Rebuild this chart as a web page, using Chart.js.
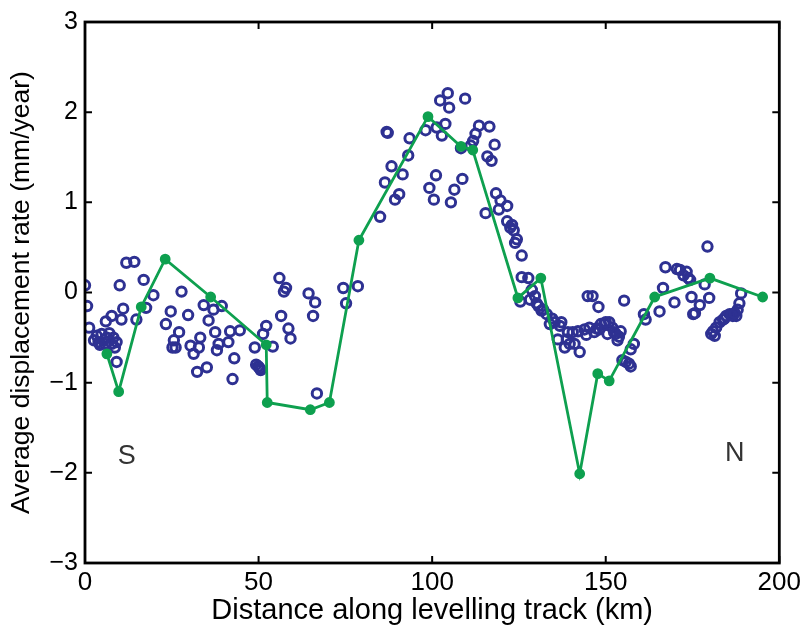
<!DOCTYPE html>
<html>
<head>
<meta charset="utf-8">
<script src="https://cdn.jsdelivr.net/npm/chart.js@4"></script>
<style>
  html, body { margin: 0; padding: 0; background: #fff; }
  #wrap { width: 805px; height: 630px; position: relative; }
</style>
</head>
<body>
<div id="wrap"><canvas id="chart"></canvas></div>
<script>
// observed levelling rates (km along track, mm/year)
var obsKm = [0.0, 0.6, 1.2, 3.4, 4.8, 6.3, 8.2, 3.9, 5.8, 7.7, 9.1, 8.6, 6.0, 7.7, 11.0, 10.5, 10.0, 11.9, 14.2, 9.1,
    14.8, 16.9, 19.7, 17.6, 24.7, 23.3, 27.8, 29.7, 27.1, 25.6, 26.1, 25.2, 30.4, 31.3, 32.8, 33.2, 32.3, 35.1, 34.2, 37.0,
    39.4, 35.6, 37.5, 38.5, 38.0, 41.3, 41.8, 44.6, 43.0, 42.5, 48.9, 51.3, 52.2, 49.9, 50.3, 49.3, 54.1, 56.0, 57.9, 57.3,
    64.4, 66.3, 65.7, 56.5, 58.6, 59.2, 66.8, 74.4, 78.6, 75.2,
    85.0, 86.4, 89.3, 90.5, 91.5, 88.3, 86.9, 87.2, 93.5, 93.1, 98.1, 101.3, 102.8, 103.8, 102.3, 104.5, 104.9, 109.5,
    101.1, 99.2, 100.5, 106.4, 108.7, 105.4, 108.3, 111.1, 111.8, 112.5, 113.5, 116.5, 118.0, 115.9, 117.1, 115.4, 118.4,
    119.7, 121.6, 119.2, 121.6, 123.0, 122.5, 123.5, 124.4, 123.9, 125.8, 125.8, 127.7, 125.4, 128.7, 129.6, 130.1, 130.6,
    132.0, 133.0, 133.9, 135.3, 136.8, 137.2, 136.2, 138.2, 139.6, 141.0, 142.5, 139.1, 140.5, 142.0, 143.9, 145.3, 146.7,
    148.1, 149.6, 151.0, 151.9, 152.9, 153.4, 154.3, 144.8, 146.2, 147.9, 155.3, 148.6, 150.0, 150.5, 152.4, 158.1, 157.2,
    154.8, 155.8, 156.7, 157.2, 161.0, 161.5, 165.5, 166.5, 167.2, 170.5, 171.4, 172.4, 173.3, 173.8, 174.3, 169.8, 174.7,
    177.1, 175.7, 175.2, 178.5, 179.8, 179.3, 189.0, 188.5, 188.0, 187.6, 186.6, 185.7, 184.7, 183.8, 182.8, 181.8, 180.9,
    180.4, 181.4,
    2.6, 4.3, 7.0, 50.6, 128.2, 131.5, 134.6, 138.8, 144.4, 147.4, 153.8, 184.2, 186.2, 187.1];
var obsRate = [0.08, -0.15, -0.39, -0.48, -0.46, -0.50, -0.50, -0.55, -0.57, -0.57, -0.55, -0.61, -0.32, -0.26, -0.18, -0.30, 0.08, 0.33, 0.34, -0.77,
    -0.30, 0.14, -0.03, -0.17, -0.21, -0.35, 0.01, -0.25, -0.44, -0.53, -0.61, -0.61, -0.59, -0.68, -0.61, -0.50, -0.88, -0.83, -0.14, -0.19,
    -0.15, -0.31, -0.44, -0.57, -0.64, -0.55, -0.43, -0.42, -0.73, -0.96, -0.61, -0.46, -0.37, -0.82, -0.84, -0.80, -0.60, 0.16, 0.05, 0.01,
    -0.01, -0.11, -0.26, -0.26, -0.40, -0.51, -1.12, 0.05, 0.07, -0.12,
    0.84, 1.22, 1.03, 1.09, 1.31, 1.40, 1.78, 1.77, 1.71, 1.52, 1.80, 1.83, 1.74, 1.87, 2.13, 2.21, 2.05, 2.15,
    1.30, 1.16, 1.03, 1.14, 1.26, 1.00, 1.60, 1.63, 1.68, 1.76, 1.85, 1.84, 1.64, 1.51, 1.46, 0.88, 1.10,
    1.02, 0.96, 0.92, 0.79, 0.75, 0.72, 0.69, 0.59, 0.55, 0.41, 0.17, 0.16, -0.10, 0.03, -0.04, -0.12, -0.15,
    -0.19, -0.24, -0.35, -0.33, -0.37, -0.33, -0.52, -0.61, -0.57, -0.57, -0.66, -0.44, -0.44, -0.43, -0.41, -0.39, -0.44,
    -0.41, -0.35, -0.33, -0.39, -0.46, -0.53, -0.43, -0.04, -0.04, -0.16, -0.09, -0.35, -0.33, -0.46, -0.44, -0.57, -0.63,
    -0.75, -0.77, -0.79, -0.82, -0.24, -0.30, -0.21, 0.05, 0.28, 0.26, 0.25, 0.19, 0.23, 0.16, 0.14, -0.11, -0.05,
    -0.14, -0.23, -0.24, 0.09, -0.06, 0.51, -0.01, -0.12, -0.19, -0.26, -0.26, -0.24, -0.26, -0.30, -0.33, -0.39, -0.43,
    -0.46, -0.48,
    -0.53, -0.58, -0.45, -0.86, -0.08, -0.20, -0.29, -0.52, -0.47, -0.40, -0.49, -0.29, -0.25, -0.23];

// model profile (green line)
var modelKm = [6.3, 9.7, 16.2, 23.1, 36.2, 52.2, 52.5, 64.9, 70.4, 78.9, 98.8, 108.3, 111.7, 124.7, 131.3, 142.5, 147.7, 151.0, 164.1, 180.0, 195.2];
var modelRate = [-0.68, -1.10, -0.16, 0.37, -0.05, -0.58, -1.22, -1.30, -1.22, 0.58, 1.95, 1.62, 1.58, -0.06, 0.16, -2.01, -0.90, -0.98, -0.05, 0.16, -0.05];

var xTicks = [0, 50, 100, 150, 200];
var yTicks = [-3, -2, -1, 0, 1, 2, 3];

var labelsText = ['S', 'N'];
var labelsKm = [12.0, 187.2];
var labelsRate = [-1.82, -1.79];

var FONT = '"Liberation Sans", Arial, Helvetica, sans-serif';

function toXY(xs, ys) {
    return xs.map(function (x, i) { return { x: x, y: ys[i] }; });
}

// box frame, inward ticks on all four sides, and the S / N labels
var framePlugin = {
    id: 'frame',
    afterDraw: function (chart) {
        var ctx = chart.ctx, a = chart.chartArea;
        var xs = chart.scales.x, ys = chart.scales.y;
        var len = 7;
        ctx.save();
        ctx.strokeStyle = '#000';
        ctx.lineWidth = 2.8;
        ctx.strokeRect(a.left, a.top, a.right - a.left, a.bottom - a.top);
        ctx.lineWidth = 2;
        ctx.beginPath();
        xTicks.forEach(function (v) {
            var px = xs.getPixelForValue(v);
            ctx.moveTo(px, a.bottom); ctx.lineTo(px, a.bottom - len);
            ctx.moveTo(px, a.top); ctx.lineTo(px, a.top + len);
        });
        yTicks.forEach(function (v) {
            var py = ys.getPixelForValue(v);
            ctx.moveTo(a.left, py); ctx.lineTo(a.left + len, py);
            ctx.moveTo(a.right, py); ctx.lineTo(a.right - len, py);
        });
        ctx.stroke();
        ctx.fillStyle = '#333';
        ctx.font = '27px ' + FONT;
        ctx.textAlign = 'center';
        ctx.textBaseline = 'middle';
        labelsText.forEach(function (t, i) {
            ctx.fillText(t, xs.getPixelForValue(labelsKm[i]), ys.getPixelForValue(labelsRate[i]));
        });
        ctx.restore();
    }
};

new Chart(document.getElementById('chart'), {
    type: 'scatter',
    data: {
        datasets: [
            {
                label: 'Model',
                data: toXY(modelKm, modelRate),
                showLine: true,
                borderColor: '#0EA04F',
                backgroundColor: '#0EA04F',
                borderWidth: 2.8,
                pointRadius: 4,
                pointHoverRadius: 4,
                order: 0
            },
            {
                label: 'Observed',
                data: toXY(obsKm, obsRate),
                showLine: false,
                borderColor: '#2E3192',
                backgroundColor: 'rgba(0,0,0,0)',
                borderWidth: 3,
                pointRadius: 4.7,
                pointHoverRadius: 4.7,
                order: 1
            }
        ]
    },
    options: {
        responsive: true,
        maintainAspectRatio: false,
        animation: false,
        layout: { padding: { left: 0, top: 12, right: 18, bottom: 0 } },
        plugins: { legend: { display: false }, tooltip: { enabled: false } },
        scales: {
            x: {
                type: 'linear',
                min: 0, max: 200,
                afterBuildTicks: function (s) { s.ticks = xTicks.map(function (v) { return { value: v }; }); },
                afterFit: function (s) { s.height = 67; },
                grid: { display: false, drawTicks: false },
                border: { display: false },
                ticks: { color: '#000', padding: 4, font: { family: FONT, size: 26 }, maxRotation: 0 },
                title: { display: true, text: 'Distance along levelling track (km)', color: '#000',
                    font: { family: FONT, size: 29 }, padding: { top: 0, bottom: 2 } }
            },
            y: {
                type: 'linear',
                min: -3, max: 3,
                afterBuildTicks: function (s) { s.ticks = yTicks.map(function (v) { return { value: v }; }); },
                afterFit: function (s) { s.width = 85; },
                grid: { display: false, drawTicks: false },
                border: { display: false },
                ticks: { color: '#000', padding: 7, font: { family: FONT, size: 25 },
                    callback: function (v) { return String(v).replace('-', '\u2212'); } },
                title: { display: true, text: 'Average displacement rate (mm/year)', color: '#000',
                    font: { family: FONT, size: 26.5 }, padding: { top: 6, bottom: 0 } }
            }
        }
    },
    plugins: [framePlugin]
});
</script>
</body>
</html>
